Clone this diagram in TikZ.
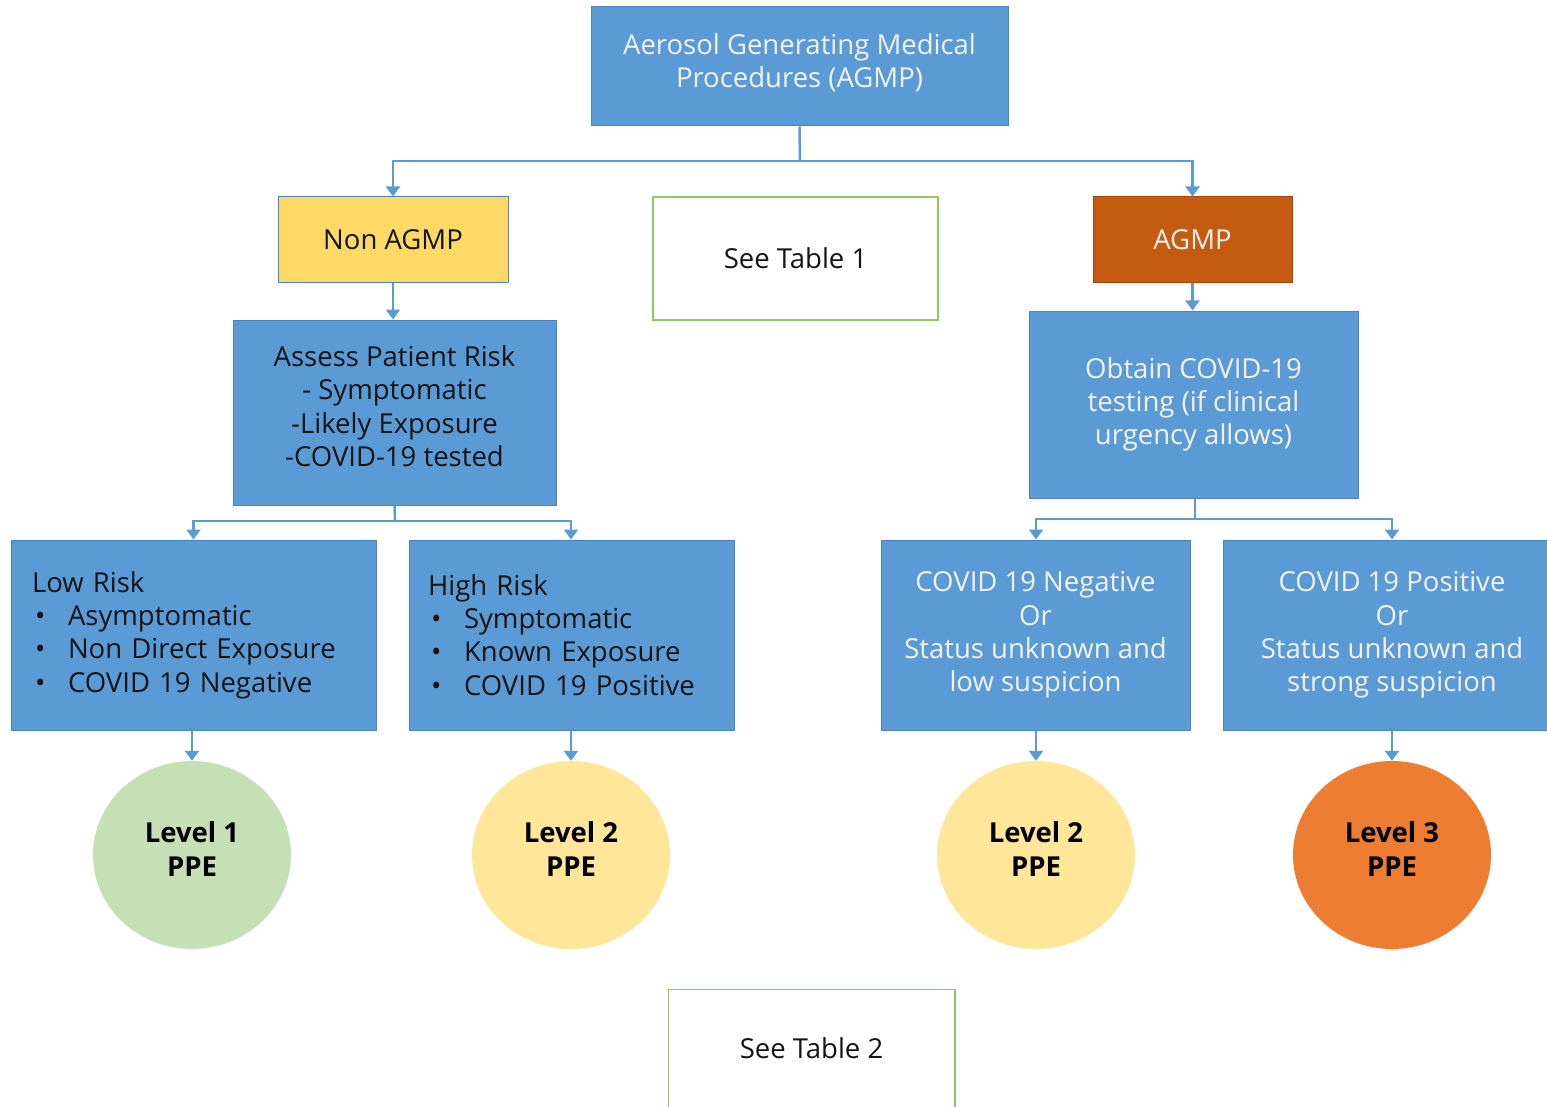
\documentclass[tikz,border=0pt]{standalone}
\usepackage{fontspec}
\setmainfont{Open Sans}
\usetikzlibrary{arrows.meta,shapes.geometric}
\definecolor{bluefill}{HTML}{5B9BD5}
\definecolor{blueedge}{HTML}{4A84BE}
\definecolor{conn}{HTML}{5B9BD5}
\definecolor{yellowbox}{HTML}{FFD966}
\definecolor{rust}{HTML}{C55A11}
\definecolor{greenedge}{HTML}{92C65F}
\definecolor{lvlgreen}{HTML}{C5E0B4}
\definecolor{lvlyellow}{HTML}{FFE699}
\definecolor{lvlorange}{HTML}{ED7D31}
\definecolor{darktext}{HTML}{141414}
\definecolor{lighttext}{HTML}{F2F2F2}
\tikzset{
  txt/.style={font=\fontsize{27.5}{33.3}\selectfont},
  bluebox/.style={draw=blueedge, line width=1pt, fill=bluefill, rectangle, inner sep=0pt, align=center, txt},
  whitebox/.style={draw=greenedge, line width=1.5pt, fill=white, rectangle, inner sep=0pt, align=center, txt, text=darktext},
  level/.style={ellipse, draw=none, minimum width=198pt, minimum height=188pt, align=center, inner sep=0pt,
    font=\fontsize{27.5}{33.3}\selectfont\bfseries, text=black},
  connector/.style={draw=conn, line width=2.5pt, -{Triangle[width=14pt,length=10pt]}},
  plainconn/.style={draw=conn, line width=2.5pt},
}
\newcommand{\bul}{\makebox[36pt][l]{\hspace{3pt}\textbullet}}
\begin{document}
\begin{tikzpicture}[x=1pt,y=-1pt]
\useasboundingbox (0,0) rectangle (1547,1107);

% top
\node[bluebox, text=lighttext, minimum width=417pt, minimum height=119pt, text depth=12pt] (top) at (799.5,66.5)
  {Aerosol Generating Medical\\Procedures (AGMP)};

% second row
\node[bluebox, fill=yellowbox, text=darktext, minimum width=230pt, minimum height=86pt] (non) at (393,240) {Non AGMP};
\node[whitebox, minimum width=285pt, minimum height=123pt] (t1) at (795.5,258.5) {See Table 1};
\node[bluebox, fill=rust, draw=rust!80!black, text=lighttext, minimum width=199pt, minimum height=86pt] (agmp) at (1192.5,240) {AGMP};

% third row
\node[bluebox, text=darktext, minimum width=323pt, minimum height=185pt, text depth=13pt] (assess) at (394.5,412.5)
  {Assess Patient Risk\\- Symptomatic\\-Likely Exposure\\-COVID-19 tested};
\node[bluebox, text=lighttext, minimum width=329pt, minimum height=187pt] (obtain) at (1193.5,404.5)
  {Obtain COVID-19\\testing (if clinical\\urgency allows)};

% fourth row
\node[bluebox, text=darktext, align=left, inner xsep=21pt, text width=323pt, minimum height=190pt] (low) at (193.5,635)
  {Low Risk\\\bul Asymptomatic\\\bul Non Direct Exposure\\\bul COVID 19 Negative};
\node[bluebox, text=darktext, align=left, inner xsep=19pt, text width=287pt, minimum height=190pt] (high) at (571.5,635)
  {High Risk\\\bul Symptomatic\\\bul Known Exposure\\\bul COVID 19 Positive};
\node[bluebox, text=lighttext, minimum width=309pt, minimum height=190pt] (neg) at (1035.5,635)
  {COVID 19 Negative\\Or\\Status unknown and\\low suspicion};
\node[bluebox, text=lighttext, minimum width=338pt, minimum height=190pt] (pos) at (1392,635)
  {COVID 19 Positive\\Or\\Status unknown and\\strong suspicion};

% levels
\node[level, fill=lvlgreen, text depth=12pt] (l1) at (192,855) {Level 1\\PPE};
\node[level, fill=lvlyellow, text depth=12pt] (l2a) at (571,855) {Level 2\\PPE};
\node[level, fill=lvlyellow, text depth=12pt] (l2b) at (1036,855) {Level 2\\PPE};
\node[level, fill=lvlorange, text depth=12pt] (l3) at (1392,855) {Level 3\\PPE};

% see table 2 (cut off at bottom)
\node[whitebox, draw=none, fill=none, minimum width=285pt, minimum height=117pt] (t2) at (811.5,1048.5) {See Table 2};
\draw[draw=greenedge, line width=1.5pt] (t2.south west) -- (t2.north west) -- (t2.north east) -- (t2.south east);

% connectors
\coordinate (j1) at (800,161);
\draw[plainconn] (top.south) -- (j1);
\draw[connector] (j1) -| (non.north);
\draw[connector] (j1) -| (agmp.north);

\draw[connector] (non.south) -- (assess.north -| non.south);
\draw[connector] (agmp.south) -- (obtain.north -| agmp.south);

\coordinate (j2) at (395,521);
\draw[plainconn] (assess.south) -- (j2);
\draw[connector] (j2) -| (low.north);
\draw[connector] (j2) -| (high.north -| l2a);

\coordinate (j3) at (1195,519);
\draw[plainconn] (obtain.south -| j3) -- (j3);
\draw[connector] (j3) -| (neg.north -| l2b);
\draw[connector] (j3) -| (pos.north -| l3);

\draw[connector] (low.south -| l1) -- (l1.north);
\draw[connector] (high.south -| l2a) -- (l2a.north);
\draw[connector] (neg.south -| l2b) -- (l2b.north);
\draw[connector] (pos.south -| l3) -- (l3.north);
\end{tikzpicture}
\end{document}
